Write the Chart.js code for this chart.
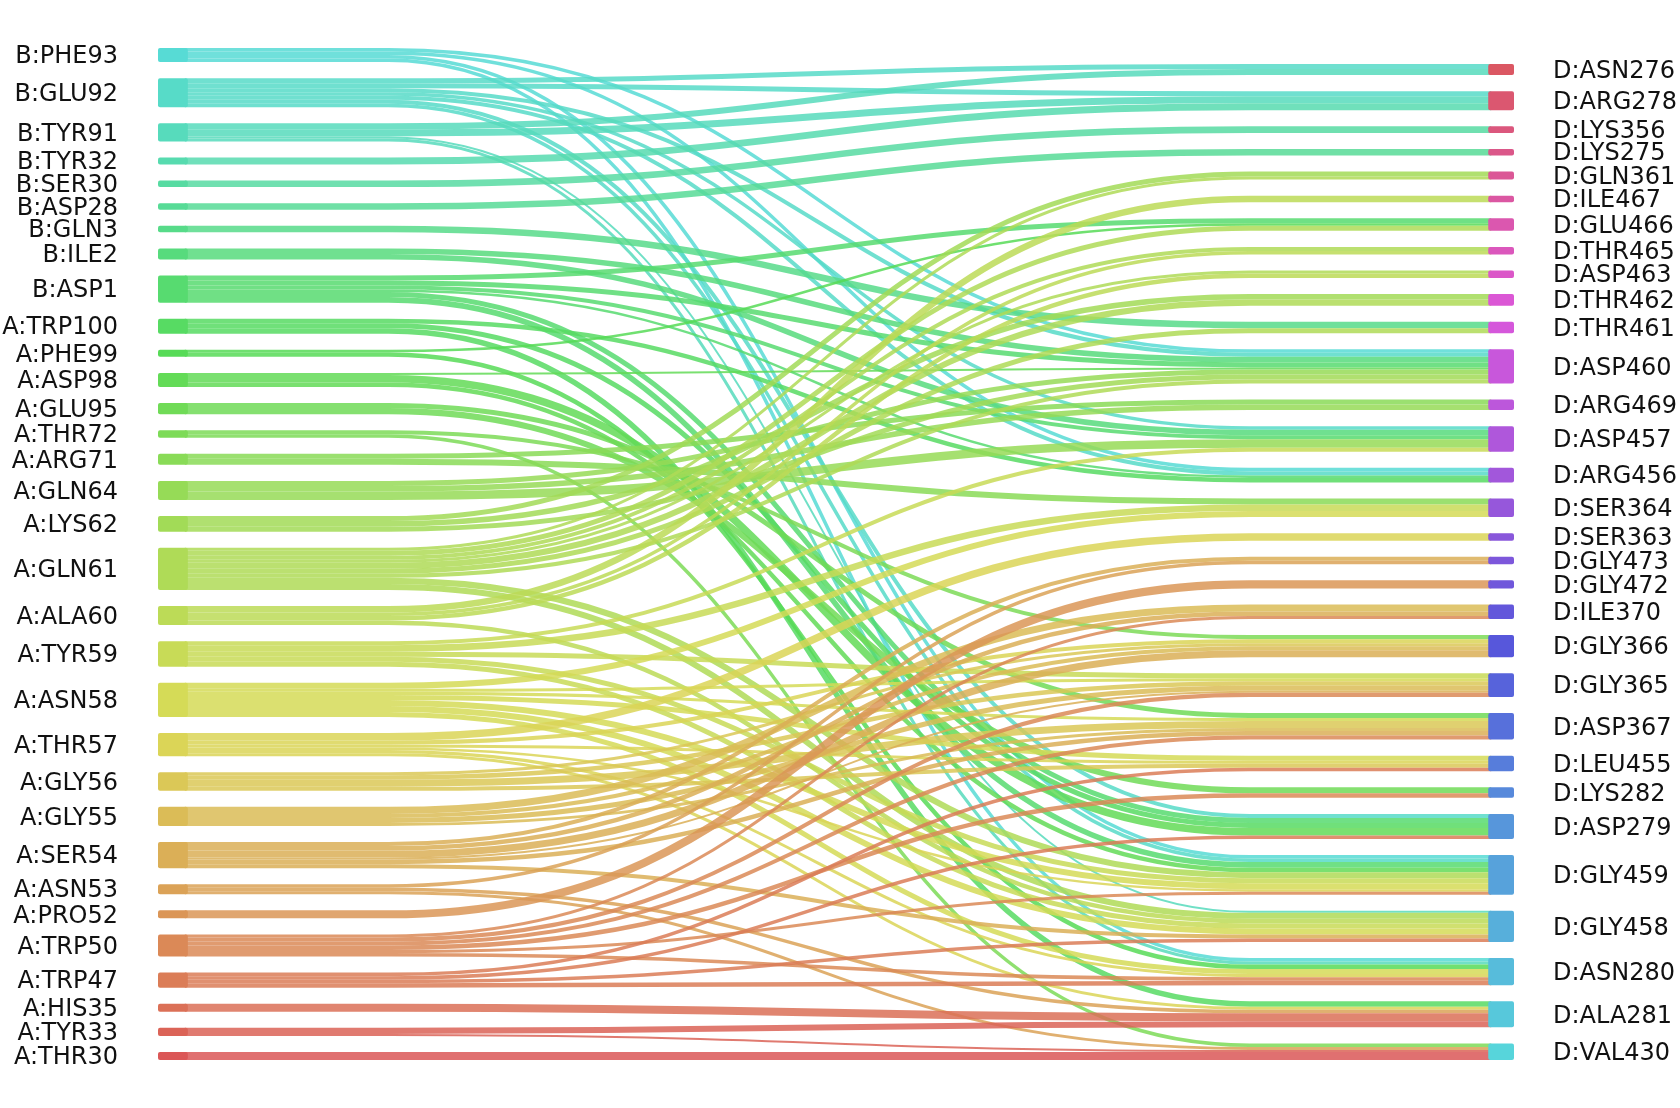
<!DOCTYPE html>
<html>
<head>
<meta charset="utf-8">
<title>Residue contacts</title>
<script src="https://cdn.jsdelivr.net/npm/chart.js@4.4.1/dist/chart.umd.min.js"></script>
<style>
  html, body { margin: 0; padding: 0; background: #ffffff; }
  #wrap { width: 1680px; height: 1108px; }
</style>
</head>
<body>
<div id="wrap"><canvas id="sankey"></canvas></div>
<script>
// Residues of chains A/B (left) and chain D (right), top to bottom
const leftNames = [
    'B:PHE93', 'B:GLU92', 'B:TYR91', 'B:TYR32', 'B:SER30', 'B:ASP28', 'B:GLN3', 'B:ILE2',
    'B:ASP1', 'A:TRP100', 'A:PHE99', 'A:ASP98', 'A:GLU95', 'A:THR72', 'A:ARG71', 'A:GLN64',
    'A:LYS62', 'A:GLN61', 'A:ALA60', 'A:TYR59', 'A:ASN58', 'A:THR57', 'A:GLY56', 'A:GLY55',
    'A:SER54', 'A:ASN53', 'A:PRO52', 'A:TRP50', 'A:TRP47', 'A:HIS35', 'A:TYR33', 'A:THR30'
];
const rightNames = [
    'D:ASN276', 'D:ARG278', 'D:LYS356', 'D:LYS275', 'D:GLN361', 'D:ILE467', 'D:GLU466', 'D:THR465',
    'D:ASP463', 'D:THR462', 'D:THR461', 'D:ASP460', 'D:ARG469', 'D:ASP457', 'D:ARG456', 'D:SER364',
    'D:SER363', 'D:GLY473', 'D:GLY472', 'D:ILE370', 'D:GLY366', 'D:GLY365', 'D:ASP367', 'D:LEU455',
    'D:LYS282', 'D:ASP279', 'D:GLY459', 'D:GLY458', 'D:ASN280', 'D:ALA281', 'D:VAL430'
];

// Contacts: from / to / weight (one source residue per line)
const linkFrom = [
    'B:PHE93', 'B:PHE93', 'B:PHE93', 'B:PHE93',
    'B:GLU92', 'B:GLU92', 'B:GLU92', 'B:GLU92', 'B:GLU92', 'B:GLU92', 'B:GLU92',
    'B:TYR91', 'B:TYR91', 'B:TYR91', 'B:TYR91',
    'B:TYR32',
    'B:SER30',
    'B:ASP28',
    'B:GLN3',
    'B:ILE2', 'B:ILE2',
    'B:ASP1', 'B:ASP1', 'B:ASP1', 'B:ASP1', 'B:ASP1', 'B:ASP1',
    'A:TRP100', 'A:TRP100', 'A:TRP100',
    'A:PHE99', 'A:PHE99',
    'A:ASP98', 'A:ASP98', 'A:ASP98',
    'A:GLU95', 'A:GLU95',
    'A:THR72', 'A:THR72',
    'A:ARG71', 'A:ARG71',
    'A:GLN64', 'A:GLN64', 'A:GLN64',
    'A:LYS62', 'A:LYS62', 'A:LYS62',
    'A:GLN61', 'A:GLN61', 'A:GLN61', 'A:GLN61', 'A:GLN61', 'A:GLN61', 'A:GLN61', 'A:GLN61', 'A:GLN61',
    'A:ALA60', 'A:ALA60', 'A:ALA60', 'A:ALA60',
    'A:TYR59', 'A:TYR59', 'A:TYR59', 'A:TYR59', 'A:TYR59',
    'A:ASN58', 'A:ASN58', 'A:ASN58', 'A:ASN58', 'A:ASN58', 'A:ASN58', 'A:ASN58',
    'A:THR57', 'A:THR57', 'A:THR57', 'A:THR57', 'A:THR57', 'A:THR57',
    'A:GLY56', 'A:GLY56', 'A:GLY56', 'A:GLY56',
    'A:GLY55', 'A:GLY55', 'A:GLY55', 'A:GLY55',
    'A:SER54', 'A:SER54', 'A:SER54', 'A:SER54', 'A:SER54', 'A:SER54',
    'A:ASN53', 'A:ASN53', 'A:ASN53',
    'A:PRO52',
    'A:TRP50', 'A:TRP50', 'A:TRP50', 'A:TRP50', 'A:TRP50', 'A:TRP50',
    'A:TRP47', 'A:TRP47', 'A:TRP47', 'A:TRP47',
    'A:HIS35',
    'A:TYR33', 'A:TYR33',
    'A:THR30'
];
const linkTo = [
    'D:ASP460', 'D:ARG456', 'D:GLY459', 'D:ASN280',
    'D:ASN276', 'D:ARG278', 'D:ASP460', 'D:ASP457', 'D:ARG456', 'D:ASP279', 'D:GLY459',
    'D:ASN276', 'D:ARG278', 'D:GLY458', 'D:ASN280',
    'D:ARG278',
    'D:LYS356',
    'D:LYS275',
    'D:THR461',
    'D:ASP460', 'D:ASP457',
    'D:GLU466', 'D:ASP460', 'D:ASP457', 'D:ARG456', 'D:ASP279', 'D:GLY459',
    'D:ARG456', 'D:ASP279', 'D:ALA281',
    'D:GLU466', 'D:ASN280',
    'D:ASP460', 'D:ASP279', 'D:GLY459',
    'D:ASP367', 'D:LYS282',
    'D:GLY366', 'D:VAL430',
    'D:ARG469', 'D:SER364',
    'D:ASP460', 'D:ARG469', 'D:ASP457',
    'D:GLN361', 'D:THR462', 'D:ASP460',
    'D:GLN361', 'D:GLU466', 'D:THR465', 'D:ASP463', 'D:THR462', 'D:THR461', 'D:ASP460', 'D:GLY459', 'D:GLY458',
    'D:ILE467', 'D:THR465', 'D:ASP463', 'D:GLY458',
    'D:SER364', 'D:ASP457', 'D:GLY365', 'D:GLY459', 'D:GLY458',
    'D:SER364', 'D:GLY365', 'D:ASP367', 'D:LEU455', 'D:GLY459', 'D:GLY458', 'D:ASN280',
    'D:SER363', 'D:GLY366', 'D:LEU455', 'D:GLY459', 'D:ASN280', 'D:ALA281',
    'D:GLY366', 'D:GLY365', 'D:ASP367', 'D:LEU455',
    'D:ILE370', 'D:GLY366', 'D:GLY365', 'D:ASP367',
    'D:GLY473', 'D:ILE370', 'D:GLY366', 'D:GLY365', 'D:ASP367', 'D:GLY458',
    'D:GLY473', 'D:ALA281', 'D:VAL430',
    'D:GLY472',
    'D:ILE370', 'D:GLY365', 'D:ASP367', 'D:LYS282', 'D:GLY459', 'D:ASN280',
    'D:LEU455', 'D:ASP279', 'D:GLY458', 'D:ASN280',
    'D:ALA281',
    'D:ALA281', 'D:VAL430',
    'D:VAL430'
];
const linkValue = [
    3.5, 3.5, 3.5, 3.5,
    5, 5, 4, 3.5, 4, 4, 3.5,
    6, 7, 2, 3,
    7,
    6.5,
    6.5,
    6.5,
    5.5, 5.5,
    5, 5, 4, 2.5, 5, 5.5,
    4.5, 5, 5.5,
    2.5, 4.5,
    2, 7.5, 4.5,
    5, 6,
    4, 3.5,
    5, 6,
    5, 5.5, 8.5,
    5, 5.5, 5,
    3, 5, 4, 3, 6, 5, 4, 6, 6,
    6.5, 3.5, 4.5, 4.5,
    6.5, 4, 5, 5, 5,
    6, 3, 3, 5, 6, 6, 5,
    7.5, 4, 3, 2.5, 3, 3,
    3, 4.5, 7, 4,
    7, 4, 5, 3,
    4, 4.5, 7, 2, 4.5, 4,
    3.5, 3.5, 3,
    8,
    3, 4, 4, 4.5, 3, 3.5,
    3.5, 3.5, 3.5, 4.5,
    8,
    6, 2,
    8
];

// Layout settings
const GAP = 16;                 // space between nodes, in value units
const LEFT_X = [0, 2.2];        // node columns on the x scale (0..100)
const RIGHT_X = [98.1, 100];
const BEND_X = [17, 80.5];      // links run straight outside this range
const LINK_ALPHA = 0.85;
const LABEL_FONT = { family: "'DejaVu Sans', sans-serif", size: 24 };

// hls palette over all nodes: left column from the bottom, then right column from the bottom
const nColors = leftNames.length + rightNames.length;
function hls(i, a) {
    return `hsla(${(i * 360 / nColors).toFixed(2)}, 65%, 60%, ${a})`;
}
const leftColor = (j, a = 1) => hls(leftNames.length - 1 - j, a);
const rightColor = (r, a = 1) => hls(nColors - 1 - r, a);

const links = linkValue.map((v, k) => ({
    s: leftNames.indexOf(linkFrom[k]),
    t: rightNames.indexOf(linkTo[k]),
    v: v
}));

const leftTotals = leftNames.map((_, i) => links.filter(l => l.s === i).reduce((a, l) => a + l.v, 0));
const rightTotals = rightNames.map((_, r) => links.filter(l => l.t === r).reduce((a, l) => a + l.v, 0));
const total = leftTotals.reduce((a, b) => a + b, 0);
const yMax = total + GAP * (leftNames.length - 1);

function stack(totals, start) {
    let y = start;
    return totals.map(t => {
        const node = { y0: y, y1: y + t };
        y += t + GAP;
        return node;
    });
}
const leftNodes = stack(leftTotals, 0);
const rightNodes = stack(rightTotals, yMax - (total + GAP * (rightNames.length - 1)));

// slot of each link inside its source and target node
leftNodes.forEach((node, i) => {
    let y = node.y0;
    links.filter(l => l.s === i).sort((a, b) => a.t - b.t).forEach(l => {
        l.sy = y + l.v / 2;
        y += l.v;
    });
});
rightNodes.forEach((node, r) => {
    let y = node.y0;
    links.filter(l => l.t === r).sort((a, b) => a.s - b.s).forEach(l => {
        l.ty = y + l.v / 2;
        y += l.v;
    });
});

function drawNode(ctx, x0, x1, y0, y1, color) {
    ctx.fillStyle = color;
    ctx.beginPath();
    ctx.roundRect(x0, y0, x1 - x0, Math.max(y1 - y0, 1), 2);
    ctx.fill();
}

const sankeyPlugin = {
    id: 'sankeyFlows',
    beforeDatasetsDraw(chart) {
        const { ctx, scales: { x, y } } = chart;
        const unit = Math.abs(y.getPixelForValue(1) - y.getPixelForValue(0));
        const xa = x.getPixelForValue(LEFT_X[1]);
        const xb = x.getPixelForValue(RIGHT_X[0]);
        const xs = x.getPixelForValue(BEND_X[0]);
        const xe = x.getPixelForValue(BEND_X[1]);
        const xm = (xs + xe) / 2;

        ctx.save();
        links.forEach(l => {
            const y0 = y.getPixelForValue(l.sy);
            const y1 = y.getPixelForValue(l.ty);
            ctx.beginPath();
            ctx.moveTo(xa - 3, y0);
            ctx.lineTo(xs, y0);
            ctx.bezierCurveTo(xm, y0, xm, y1, xe, y1);
            ctx.lineTo(xb + 3, y1);
            ctx.lineWidth = l.v * unit;
            ctx.strokeStyle = leftColor(l.s, LINK_ALPHA);
            ctx.stroke();
        });

        leftNodes.forEach((n, i) => drawNode(ctx,
            x.getPixelForValue(LEFT_X[0]), x.getPixelForValue(LEFT_X[1]),
            y.getPixelForValue(n.y0), y.getPixelForValue(n.y1), leftColor(i)));
        rightNodes.forEach((n, r) => drawNode(ctx,
            x.getPixelForValue(RIGHT_X[0]), x.getPixelForValue(RIGHT_X[1]),
            y.getPixelForValue(n.y0), y.getPixelForValue(n.y1), rightColor(r)));
        ctx.restore();
    }
};

function labelAxis(position, nodes, names, width, padding) {
    return {
        type: 'linear',
        position: position,
        reverse: true,
        min: 0,
        max: yMax,
        grid: { display: false, drawTicks: false },
        border: { display: false },
        afterBuildTicks: scale => {
            scale.ticks = nodes.map(n => ({ value: (n.y0 + n.y1) / 2 }));
        },
        afterFit: scale => {
            // fixed gutter for the labels, no extra vertical padding
            scale.width = width;
            scale.paddingTop = 0;
            scale.paddingBottom = 0;
        },
        ticks: {
            autoSkip: false,
            padding: padding,
            labelOffset: 2,
            color: '#111111',
            font: LABEL_FONT,
            callback: (value, index) => names[index]
        }
    };
}

new Chart(document.getElementById('sankey'), {
    type: 'scatter',
    data: { datasets: [] },
    options: {
        responsive: true,
        maintainAspectRatio: false,
        animation: false,
        layout: { padding: { top: 48, bottom: 48, left: 0, right: 0 } },
        plugins: {
            legend: { display: false },
            tooltip: { enabled: false }
        },
        scales: {
            x: { type: 'linear', min: 0, max: 100, display: false },
            y: labelAxis('left', leftNodes, leftNames, 158, 40),
            yR: labelAxis('right', rightNodes, rightNames, 166, 39)
        }
    },
    plugins: [sankeyPlugin]
});
</script>
</body>
</html>
